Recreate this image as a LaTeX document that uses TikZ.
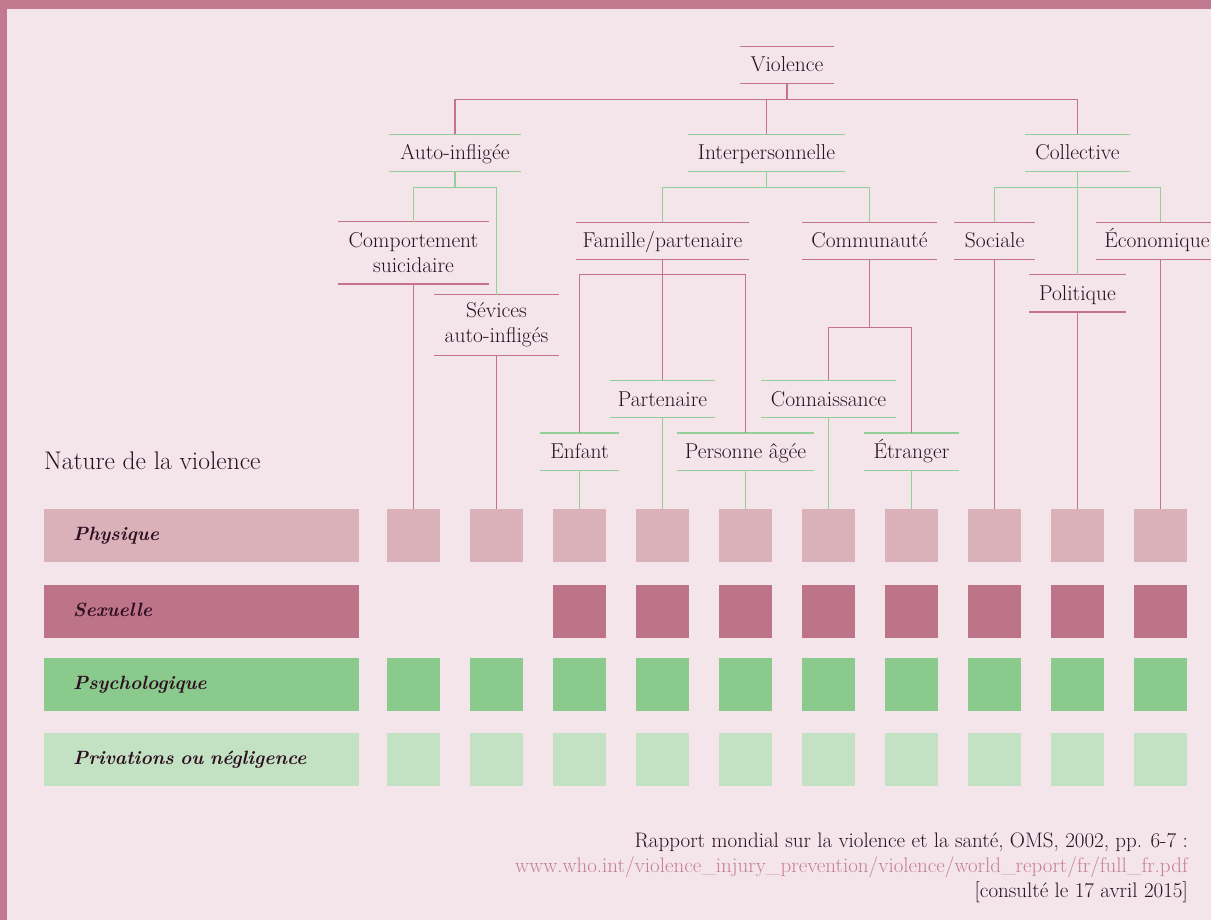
\documentclass[tikz,border=0pt]{standalone}
\usepackage{fontspec}
\usepackage{tikz}
\usetikzlibrary{positioning}

\definecolor{frame}{HTML}{C27A91}
\definecolor{paper}{HTML}{F3E5EA}
\definecolor{rose}{HTML}{C4728E}
\definecolor{mint}{HTML}{93CF98}
\definecolor{phys}{HTML}{DAB1B9}
\definecolor{sexu}{HTML}{BD7388}
\definecolor{psyc}{HTML}{8ACA8C}
\definecolor{priv}{HTML}{C3E2C3}
\definecolor{ink}{HTML}{2E0F22}
\definecolor{weblink}{HTML}{C77F96}

\newcommand\lbl{\fontsize{21.5}{25}\selectfont}
\newcommand\citefont{\fontsize{21}{25}\selectfont}
\newcommand\rowfont{\fontsize{19.2}{24}\selectfont\bfseries\itshape}

\tikzset{
  catbase/.style={inner sep=0pt, align=center, text=ink, font=\lbl},
  cat/.style={catbase, minimum width=#1, minimum height=37, text height=16, text depth=2},
  cattwo/.style={catbase, minimum width=#1},
  wire/.style={draw=#1, line width=1.4pt},
  rosebox/.style={append after command={(\tikzlastnode.north west) edge[wire=rose] (\tikzlastnode.north east)
      (\tikzlastnode.south west) edge[wire=rose] (\tikzlastnode.south east)}},
  mintbox/.style={append after command={(\tikzlastnode.north west) edge[wire=mint] (\tikzlastnode.north east)
      (\tikzlastnode.south west) edge[wire=mint] (\tikzlastnode.south east)}},
  sq/.style={minimum size=53, inner sep=0pt},
  rowlab/.style={anchor=west, minimum height=53, inner xsep=29, inner ysep=0pt, text width=257,
      align=left, font=\rowfont, text=ink, text height=14, text depth=5},
}

\begin{document}
\begin{tikzpicture}[x=1pt, y=-1pt]
	\useasboundingbox (0,0) rectangle (1211,920);
	\fill[paper] (0,0) rectangle (1211,920);
	\fill[frame] (0,0) rectangle (1211,9);
	\fill[frame] (0,0) rectangle (7,920);

	% arbre
	\node[cat=94, rosebox] (violence) at (787,65) {Violence};
	\node[cat=132, mintbox] (auto) at (455,153) {Auto-infligée};
	\node[cat=157, mintbox] (inter) at (766.5,153) {Interpersonnelle};
	\node[cat=105, mintbox] (coll) at (1077.5,153) {Collective};

	\node[cattwo=150, minimum height=62, rosebox] (comp) at (413.5,253) {Comportement\\suicidaire};
	\node[cattwo=125, minimum height=60, rosebox] (sev) at (496.5,325) {Sévices\\auto-infligés};
	\node[cat=172, rosebox] (fam) at (662.5,241) {Famille/partenaire};
	\node[cat=135, rosebox] (comm) at (869.5,241) {Communauté};
	\node[cat=81, rosebox] (soc) at (994.5,241) {Sociale};
	\node[cat=96, rosebox] (pol) at (1077.5,293.5) {Politique};
	\node[cat=122, rosebox] (eco) at (1157,241) {Économique};

	\node[cat=79, mintbox] (enf) at (579.5,451.5) {Enfant};
	\node[cat=105, mintbox] (part) at (662.5,399) {Partenaire};
	\node[cat=137, mintbox] (pers) at (745.5,451.5) {Personne âgée};
	\node[cat=135, mintbox] (conn) at (828.5,399) {Connaissance};
	\node[cat=95, mintbox] (etr) at (911.5,451.5) {Étranger};

	% squares first, so the wires can reach them
	\foreach \i in {1,...,10} {
		\node[sq, fill=phys] (ph\i) at ({330.5+83*\i},535.5) {};
		\node[sq, fill=psyc] (ps\i) at ({330.5+83*\i},684.5) {};
		\node[sq, fill=priv] (pr\i) at ({330.5+83*\i},759.5) {};
	}
	\foreach \i in {3,...,10}
		\node[sq, fill=sexu] (sx\i) at ({330.5+83*\i},611.5) {};

	\draw[wire=rose] (violence.south) -- ++(0,16) coordinate (vbar);
	\draw[wire=rose] (auto.north) |- (vbar) -| (coll.north);
	\draw[wire=rose] (inter.north) -- (inter.north |- vbar);

	\draw[wire=mint] (auto.south) -- ++(0,16) coordinate (abar);
	\draw[wire=mint] (comp.north) |- (abar) -| (sev.north);
	\draw[wire=mint] (inter.south) -- ++(0,16) coordinate (ibar);
	\draw[wire=mint] (fam.north) |- (ibar) -| (comm.north);
	\draw[wire=mint] (coll.south) -- ++(0,16) coordinate (cbar) -- (pol.north);
	\draw[wire=mint] (soc.north) |- (cbar) -| (ph10.north |- eco.north);

	\draw[wire=rose] (fam.south) -- ++(0,15) coordinate (fbar) -- (part.north);
	\draw[wire=rose] (enf.north) |- (fbar) -| (pers.north);
	\draw[wire=rose] (comm.south) -- ++(0,68) coordinate (kbar);
	\draw[wire=rose] (conn.north) |- (kbar) -| (etr.north);

	% grille
	\node[anchor=base west, inner sep=0pt, text=ink, font=\fontsize{25.5}{30}\selectfont] (nature) at (44,469) {Nature de la violence};
	\node[rowlab, fill=phys] (lphys) at (44,535.5) {Physique};
	\node[rowlab, fill=sexu] (lsexu) at (44,611.5) {Sexuelle};
	\node[rowlab, fill=psyc] (lpsyc) at (44,684.5) {Psychologique};
	\node[rowlab, fill=priv] (lpriv) at (44,759.5) {Privations ou négligence};

	\foreach \n/\i/\col in {comp/1/rose, sev/2/rose, enf/3/mint, part/4/mint, pers/5/mint,
		conn/6/mint, etr/7/mint, soc/8/rose, pol/9/rose}
		\draw[wire=\col] (\n.south) -- (ph\i.north);
	\draw[wire=rose] (ph10.north |- eco.south) -- (ph10.north);

	% source
	\node[anchor=base east, inner sep=0pt, text=ink, font=\citefont] (cite1) at (1188,847)
		{Rapport mondial sur la violence et la santé, OMS, 2002, pp. 6-7 :};
	\node[anchor=base east, inner sep=0pt, text=weblink, font=\citefont] (cite2) at (1188,872)
		{www.who.int/violence\_injury\_prevention/violence/world\_report/fr/full\_fr.pdf};
	\node[anchor=base east, inner sep=0pt, text=ink, font=\citefont] (cite3) at (1188,897)
		{[consulté le 17 avril 2015]};
\end{tikzpicture}
\end{document}
